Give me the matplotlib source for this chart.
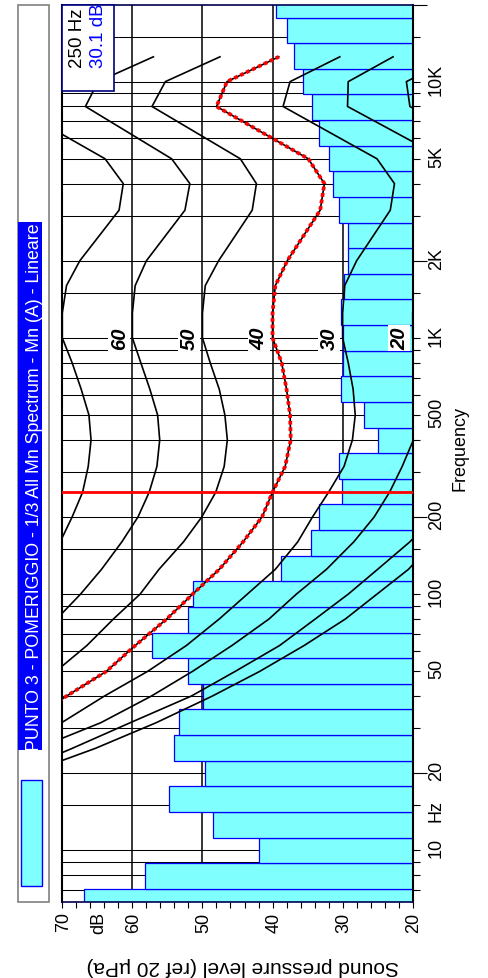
import matplotlib
matplotlib.use("Agg")
import matplotlib.pyplot as plt
import matplotlib.transforms as mtransforms
from matplotlib import font_manager
from matplotlib.patches import Rectangle
from matplotlib.ticker import FixedLocator, NullFormatter
import numpy as np

# ---------------- data ----------------
title = "PUNTO 3 - POMERIGGIO - 1/3 All Mn Spectrum - Mn (A) - Lineare"

band_freqs = [6.3, 8, 10, 12.5, 16, 20, 25, 31.5, 40, 50, 63, 80, 100, 125, 160,
              200, 250, 315, 400, 500, 630, 800, 1000, 1250, 1600, 2000, 2500,
              3150, 4000, 5000, 6300, 8000, 10000, 12500, 16000, 20000]
band_levels = [66.9, 58.2, 42.0, 48.5, 54.8, 49.7, 54.0, 53.4, 49.9, 52.1,
               57.2, 52.0, 51.4, 38.8, 34.5, 33.4, 30.1, 30.5, 25.0, 27.0,
               30.3, 30.0, 30.0, 30.3, 29.8, 29.3, 29.3, 30.5, 31.4, 32.0,
               33.3, 34.4, 35.6, 36.9, 38.0, 39.5]

contour_freqs = [20, 25, 31.5, 40, 50, 63, 80, 100, 125, 160, 200, 250, 315, 400,
                 500, 630, 800, 1000, 1250, 1600, 2000, 3150, 4000, 5000, 8000,
                 10000, 12500]
nan = float("nan")
phon_70 = [nan, nan, nan, nan, nan, nan, nan, nan, 72.5, 70.3, 68.6, 67.1, 66.3, 65.9,
           66.2, 67.3, 68.6, 70.0, 70.0, 69.4, 67.5, 61.9, 61.3, 63.9, 77.0, nan, nan]
phon_60 = [nan, nan, nan, nan, nan, 74.5, 70.8, 67.4, 64.4, 61.5, 59.2, 57.6, 56.5, 56.1,
           56.4, 57.5, 58.8, 60.0, 60.0, 59.6, 58.0, 52.5, 51.8, 54.4, 66.7, 64.9, 57.0]
phon_50 = [nan, nan, nan, nan, 70.9, 66.5, 62.7, 58.9, 56.2, 52.7, 50.1, 48.1, 46.9, 46.45,
           46.8, 47.6, 48.9, 50.0, 50.0, 49.6, 47.7, 42.9, 42.3, 44.6, 57.2, 55.3, 47.5]
phon_40 = [nan, nan, 75.2, 69.4, 63.7, 59.6, 55.1, 51.4, 47.6, 44.2, 41.5, 40.0, 38.2, 37.4,
           37.5, 38.0, 38.7, 40.0, 40.0, 39.6, 37.9, 33.2, 32.6, 34.9, 48.0, 46.5, 39.1]
phon_30 = [nan, 77.0, 70.1, 64.0, 57.8, 52.3, 47.6, 43.6, 39.6, 36.4, 34.3, 32.0, 29.8, 28.6,
           28.2, 28.5, 29.2, 30.0, 30.0, 29.7, 28.0, 23.2, 22.6, 25.1, 38.5, 37.5, 30.4]
phon_20 = [nan, 73.6, 64.5, 57.3, 51.4, 45.8, 40.5, 36.6, 32.3, 28.4, 25.5, 23.3, 21.5, 19.9,
           19.3, 19.3, 19.6, 20.0, 20.0, 19.7, 18.2, 13.4, 12.8, 15.5, 29.3, 29.2, 22.8]
phon_10 = [77.0, 68.6, 60.3, 51.6, 45.3, 39.0, 33.9, 29.2, 25.0, 20.4, 17.0, nan, nan, nan,
           nan, nan, nan, nan, nan, nan, nan, nan, nan, 6.0, 20.4, 20.9, 14.0]
phon_0 = [75.0, 65.3, 56.6, 48.6, 41.8, 35.5, 29.6, 25.1, 20.6, 17.0, nan, nan, nan, nan,
          nan, nan, nan, nan, nan, nan, nan, nan, nan, nan, nan, nan, nan]
contours = [phon_70, phon_60, phon_50, phon_40, phon_30, phon_20, phon_10, phon_0]
contour_labels = ["60", "50", "40", "30", "20"]
contour_label_values = [60, 50, 40, 30, 20]

cursor_freq = 250
cursor_label = "250 Hz"
cursor_value = "30.1 dB"

grid_freqs = [7, 8, 9, 10, 15, 20, 30, 40, 50, 60, 70, 80, 90, 100, 150, 200, 300, 400,
              500, 600, 700, 800, 900, 1000, 1500, 2000, 3000, 4000, 5000, 6000, 7000,
              8000, 9000, 10000, 15000]
long_tick_freqs = [20, 200, 2000, 20000]
freq_tick_vals = [10, 20, 50, 100, 200, 500, 1000, 2000, 5000, 10000]
freq_tick_labels = ["10", "20", "50", "100", "200", "500", "1K", "2K", "5K", "10K"]
db_grid = [60, 50, 40, 30]
db_tick_vals = [70, 65, 60, 50, 40, 30, 20]
db_tick_labels = ["70", "dB", "60", "50", "40", "30", "20"]

# ---------------- style ----------------
W, H, DPI = 488, 979, 100
plt.rcParams["font.family"] = ["Liberation Sans", "DejaVu Sans"]
names = {f.name for f in font_manager.fontManager.ttflist}
title_family = ["Liberation Sans Narrow", "Liberation Sans"] if "Liberation Sans Narrow" in names else ["Liberation Sans"]

CYAN = "#80FFFF"
BLUE = "#0000FF"

fig = plt.figure(figsize=(W / DPI, H / DPI), dpi=DPI)
fig.patch.set_facecolor("white")


def fx(px):
    return px / W


def fy(py):
    return 1 - py / H


ax_l, ax_r, ax_t, ax_b = 62.3, 412.7, 5.5, 902.8
ax = fig.add_axes([fx(ax_l), fy(ax_b), (ax_r - ax_l) / W, (ax_b - ax_t) / H])
ax.set_yscale("log")
ax.set_xlim(70, 20)
ax.set_ylim(band_freqs[0], band_freqs[-1])
ax.set_facecolor("white")

# grid
for f in grid_freqs:
    ax.axhline(f, color="black", lw=0.75, zorder=1)
for d in db_grid:
    ax.axvline(d, color="black", lw=1.1, zorder=1)

# bars (1/3 octave bands)
fc = 10 ** (np.round(10 * np.log10(band_freqs)) / 10)
lo = fc / 10 ** 0.05
hi = fc * 10 ** 0.05
lv = np.array(band_levels)
ax.barh(lo, lv - 20, height=hi - lo, left=20, align="edge", color=CYAN,
        edgecolor=BLUE, linewidth=0.9, zorder=2)

# equal loudness contours
for c in contours:
    ax.plot(c, contour_freqs, color="black", lw=1.2, zorder=3)
ax.plot(phon_40, contour_freqs, color="red", lw=2.7, linestyle=(0, (1.0, 0.75)), zorder=4)

# cursor line
ax.axhline(cursor_freq, color="red", lw=2.0, zorder=4)

# contour labels
for lab, v in zip(contour_labels, contour_label_values):
    ax.text(v + 1.9, 1000, lab, rotation=90, ha="center", va="center", fontsize=14.5,
            fontweight="bold", fontstyle="italic", zorder=6,
            bbox=dict(boxstyle="square,pad=0.08", fc="white", ec="none"))

# spines
for s in ["left", "right"]:
    ax.spines[s].set_color("black")
    ax.spines[s].set_linewidth(1.5)
for s in ["top", "bottom"]:
    ax.spines[s].set_color("#000050")
    ax.spines[s].set_linewidth(1.2)

# ticks
ax.set_xticks([])
ax.xaxis.set_minor_locator(FixedLocator(list(range(20, 71, 2))))
ax.xaxis.set_minor_formatter(NullFormatter())
ax.tick_params(axis="x", which="minor", bottom=True, top=False, direction="out",
               length=4.3, width=0.8, color="black")
ax.yaxis.set_major_locator(FixedLocator(long_tick_freqs))
ax.yaxis.set_minor_locator(FixedLocator([f for f in grid_freqs if f not in long_tick_freqs]))
ax.yaxis.set_major_formatter(NullFormatter())
ax.yaxis.set_minor_formatter(NullFormatter())
ax.tick_params(axis="y", which="both", left=False, right=True, labelleft=False,
               labelright=False, direction="out", width=0.8, color="black")
ax.tick_params(axis="y", which="major", length=10)
ax.tick_params(axis="y", which="minor", length=5)

# frequency tick labels
tr_f = mtransforms.offset_copy(
    mtransforms.blended_transform_factory(fig.transFigure, ax.transData),
    fig=fig, x=0, y=3, units="dots")
for f, lab in zip(freq_tick_vals, freq_tick_labels):
    ax.text(fx(441), f, lab, transform=tr_f, rotation=90, rotation_mode="anchor",
            ha="center", va="baseline", fontsize=13)
ax.text(fx(441), 14, "Hz", transform=tr_f, rotation=90, rotation_mode="anchor",
        ha="center", va="baseline", fontsize=13)

# dB tick labels
tr_d = mtransforms.offset_copy(
    mtransforms.blended_transform_factory(ax.transData, fig.transFigure),
    fig=fig, x=5.8, y=0, units="dots")
for v, lab in zip(db_tick_vals, db_tick_labels):
    ax.text(v, fy(922.5), lab, transform=tr_d, rotation=90, rotation_mode="anchor",
            ha="center", va="baseline", fontsize=13)

# axis titles
fig.text(fx(465), fy(448.3), "Frequency", rotation=90, rotation_mode="anchor",
         ha="center", va="baseline", fontsize=13)
fig.text(fx(242.5), fy(961), "Sound pressure level (ref 20 \u00b5Pa)", rotation=180,
         rotation_mode="anchor", ha="center", va="baseline", fontsize=15)

# cursor info box
fig.patches.append(Rectangle((fx(62.3), fy(91.7)), (114.3 - 62.3) / W, (91.7 - 6) / H,
                             transform=fig.transFigure, fc="white", ec="#000080", lw=1.2,
                             zorder=5))
fig.text(fx(81.7), fy(68.3), cursor_label, rotation=90, rotation_mode="anchor",
         ha="left", va="baseline", fontsize=13.5, color="black", zorder=6)
fig.text(fx(103.3), fy(68.3), cursor_value, rotation=90, rotation_mode="anchor",
         ha="left", va="baseline", fontsize=13.5, color=BLUE, zorder=6)

# title / legend panel
fig.patches.append(Rectangle((fx(18.3), fy(902.7)), (49.3 - 18.3) / W, (902.7 - 6) / H,
                             transform=fig.transFigure, fill=False, ec="#808080", lw=1.2,
                             zorder=2))
fig.patches.append(Rectangle((fx(18.3), fy(751)), (41.7 - 18.3) / W, (751 - 223) / H,
                             transform=fig.transFigure, fc=BLUE, ec="none", zorder=2))
fig.patches.append(Rectangle((fx(20.7), fy(886.7)), (41.7 - 20.7) / W, (886.7 - 780.7) / H,
                             transform=fig.transFigure, fc=CYAN, ec=BLUE, lw=1.0, zorder=2))
t = fig.text(fx(39.3), fy(487), title, rotation=90, rotation_mode="anchor",
             ha="center", va="baseline", fontsize=13, color="white",
             family=title_family, zorder=6)
renderer = fig.canvas.get_renderer()
bb = t.get_window_extent(renderer)
t.set_fontsize(t.get_fontsize() * 524.0 / bb.height)

fig.savefig("out.png", dpi=DPI, facecolor="white")
